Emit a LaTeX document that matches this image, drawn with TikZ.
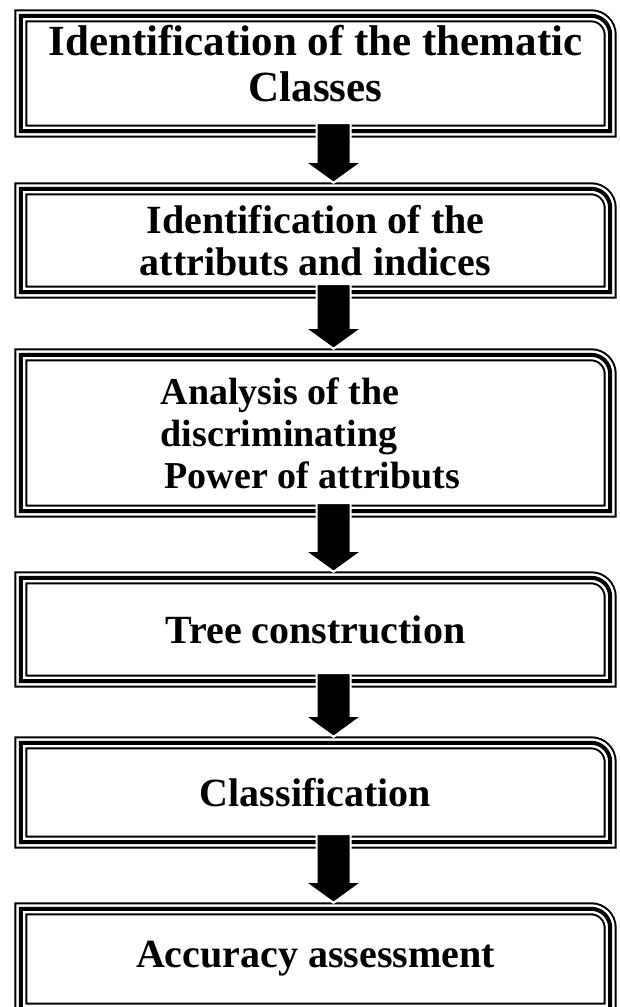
\documentclass[tikz,border=0pt]{standalone}
\usepackage{fontspec}
\setmainfont{Liberation Serif}
\usetikzlibrary{calc}
\tikzstyle{stage}=[rectangle, inner sep=0pt, minimum width=589pt, font=\bfseries\fontsize{40}{42}\selectfont]
\tikzstyle{frame}=[draw=black, line width=13pt, postaction={draw=white, line width=9pt}, postaction={draw=black, line width=4pt}]
\tikzstyle{arrowfill}=[fill=black, draw=white, line width=2pt]
\newcommand{\stageframe}[1]
{
  \draw[frame] (#1.south west) -- (#1.north west) -- ([xshift=-19pt]#1.north east) arc[start angle=90, end angle=0, radius=19pt] -- (#1.south east) -- cycle;
}
\newcommand{\stagearrow}[2]
{
  \path[arrowfill] let \p1 = ($(#1.south)+(18,-8)$), \p2 = ($(#2.north)+(18,-6)$) in
    (\x2,\y2) -- (\x2-29pt,\y2+21pt) -- (\x2-17pt,\y2+21pt) -- (\x1-17pt,\y1) -- (\x1+17pt,\y1) -- (\x2+17pt,\y2+21pt) -- (\x2+29pt,\y2+21pt) -- cycle;
}
\begin{document}
\begin{tikzpicture}[x=1pt, y=-1pt]
	\useasboundingbox (0,0) rectangle (619,1007);
	\clip (0,0) rectangle (619,1007);

	\node[stage, minimum height=115pt, align=center, text depth=20pt, font=\bfseries\fontsize{43}{46}\selectfont](b1) at (315.5,73.5){Identification of the thematic\\Classes};
	\node[stage, minimum height=103pt, align=center](b2) at (315.5,240.5){Identification of the\\attributs and indices};
	\node[stage, minimum height=156pt, align=left, font=\bfseries\fontsize{38}{42}\selectfont](b3) at (315.5,433){Analysis of the\\discriminating\\\hspace*{4pt}Power of attributs\hspace*{10pt}};
	\node[stage, minimum height=103pt](b4) at (315.5,629.5){Tree construction};
	\node[stage, minimum height=99pt](b5) at (315.5,792.5){Classification};
	\node[stage, minimum height=100pt](b6) at (315.5,959){Accuracy assessment};

	\foreach \b in {b1,b2,b3,b4,b5,b6} {\stageframe{\b}}

	\stagearrow{b1}{b2}
	\stagearrow{b2}{b3}
	\stagearrow{b3}{b4}
	\stagearrow{b4}{b5}
	\stagearrow{b5}{b6}
\end{tikzpicture}
\end{document}
